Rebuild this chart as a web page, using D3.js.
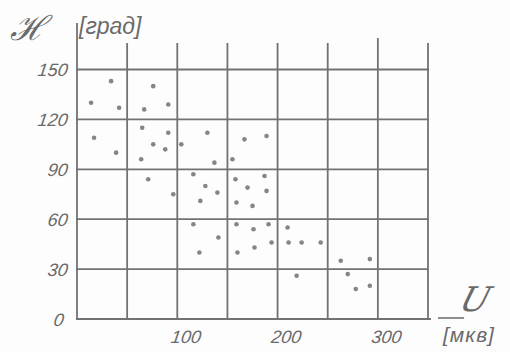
<!DOCTYPE html>
<html>
<head>
<meta charset="utf-8">
<script src="https://cdn.jsdelivr.net/npm/d3@7"></script>
<style>
  html, body { margin: 0; padding: 0; background: #fdfdfd; }
  svg { display: block; }
  .lbl { font-family: "Liberation Sans", "DejaVu Sans", sans-serif; font-style: italic; fill: #6a6a6a; }
</style>
</head>
<body>
<div id="chart"></div>
<script>
// U, microvolts (horizontal)
const signalU = [34, 14, 42, 76, 67, 91, 17, 39, 65, 91, 76, 88, 64, 104, 130, 137, 167, 189, 155,
  71, 116, 128, 96, 140, 123, 158, 187, 170, 189, 159, 175, 116, 141, 122, 159, 176, 191, 210,
  177, 194, 160, 211, 224, 243, 263, 292, 219, 270, 278, 292];
// H, degrees (vertical)
const angleH = [143, 130, 127, 140, 126, 129, 109, 100, 115, 112, 105, 102, 96, 105, 112, 94, 108, 110, 96,
  84, 87, 80, 75, 76, 71, 84, 86, 79, 77, 70, 68, 57, 49, 40, 57, 54, 57, 55,
  43, 46, 40, 46, 46, 46, 35, 36, 26, 27, 18, 20];

const gridU = [0, 50, 100, 150, 200, 250, 300, 350];
const gridH = [0, 30, 60, 90, 120, 150];
const xTickLabels = [100, 200, 300];
const yTickLabels = [0, 30, 60, 90, 120, 150];

const width = 510, height = 352;
const lineColor = '#727272';
const slant = Math.tan(8 * Math.PI / 180);

const svg = d3.select('#chart')
  .append('svg')
  .attr('width', width)
  .attr('height', height);

const x = d3.scaleLinear().domain([0, 350]).range([77, 428]);
const y = d3.scaleLinear().domain([0, 150]).range([319, 69.5]);

// horizontal grid
svg.append('g')
  .selectAll('line')
  .data(gridH)
  .join('line')
  .attr('x1', x(-1))
  .attr('x2', d => d === 0 ? x(353) : x(351))
  .attr('y1', d => y(d))
  .attr('y2', d => y(d))
  .attr('stroke', lineColor)
  .attr('stroke-width', 1.8);

// vertical grid, running up past the top row
svg.append('g')
  .selectAll('line')
  .data(gridU)
  .join('line')
  .attr('x1', d => x(d))
  .attr('x2', d => x(d))
  .attr('y1', y(0) + 1)
  .attr('y2', d => d === 0 ? y(178) : (d === 300 ? y(169) : y(166)))
  .attr('stroke', lineColor)
  .attr('stroke-width', 1.8);

// short stroke under the U label
svg.append('line')
  .attr('x1', x(360)).attr('x2', x(386))
  .attr('y1', y(0) - 1).attr('y2', y(0) - 1)
  .attr('stroke', lineColor)
  .attr('stroke-width', 1.6);

// points
svg.append('g')
  .selectAll('circle')
  .data(signalU.map((u, i) => ({ u, h: angleH[i] })))
  .join('circle')
  .attr('cx', d => x(d.u))
  .attr('cy', d => y(d.h))
  .attr('r', 2.3)
  .attr('fill', '#707070')
  .attr('opacity', 0.85);

// tick labels
svg.append('g')
  .selectAll('text')
  .data(yTickLabels)
  .join('text')
  .attr('class', 'lbl')
  .attr('x', d => d === 0 ? 63 : 67)
  .attr('y', d => y(d) + 7)
  .attr('text-anchor', 'end')
  .attr('font-size', 18)
  .attr('transform', d => `skewX(-8) translate(${(y(d) + 7) * slant},0)`)
  .text(d => d);

svg.append('g')
  .selectAll('text')
  .data(xTickLabels)
  .join('text')
  .attr('class', 'lbl')
  .attr('x', d => x(d) + 8)
  .attr('y', 343)
  .attr('text-anchor', 'middle')
  .attr('font-size', 18)
  .attr('transform', `skewX(-8) translate(${343 * slant},0)`)
  .text(d => d);

// axis titles
svg.append('text')
  .attr('class', 'lbl')
  .attr('x', 10)
  .attr('y', 40)
  .attr('font-size', 34)
  .style('font-family', '"DejaVu Serif", serif')
  .text('ℋ');

svg.append('text')
  .attr('class', 'lbl')
  .attr('x', 79)
  .attr('y', 34)
  .attr('font-size', 23)
  .text('[град]');

svg.append('text')
  .attr('class', 'lbl')
  .attr('x', 458)
  .attr('y', 311)
  .attr('font-size', 34)
  .style('font-family', '"DejaVu Serif", serif')
  .attr('transform', `skewX(-16) translate(${311 * Math.tan(16 * Math.PI / 180)},0)`)
  .text('U');

svg.append('text')
  .attr('class', 'lbl')
  .attr('x', 443)
  .attr('y', 342)
  .attr('font-size', 21)
  .attr('letter-spacing', 1)
  .text('[мкв]');
</script>
</body>
</html>
